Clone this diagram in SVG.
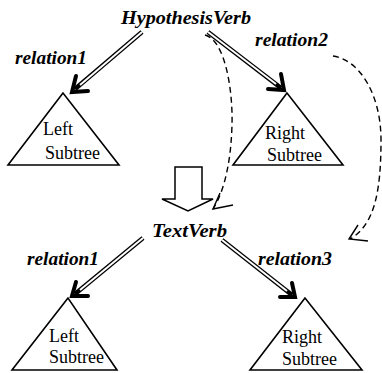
<svg xmlns="http://www.w3.org/2000/svg" width="382" height="373" viewBox="0 0 382 373">
<style>
.lbl{font-weight:bold;font-style:italic;font-size:18px;fill:#000}
.txt{font-size:18px;fill:#000}
.tri{fill:#fff;stroke:#000;stroke-width:1.6;stroke-linejoin:miter}
.dbl-o{stroke:#000;stroke-width:4.6;fill:none}
.dbl-i{stroke:#fff;stroke-width:2;fill:none}
.head{stroke:#000;stroke-width:4;fill:none;stroke-linecap:round;stroke-linejoin:miter}
.dash{stroke:#000;stroke-width:1.4;fill:none;stroke-dasharray:6 4}
.thin{stroke:#000;stroke-width:1.4;fill:none}
</style>
<rect width="382" height="373" fill="#fff"/>
<g font-family="Liberation Serif, DejaVu Serif, serif">
<g id="tri-hyp-left"><polygon class="tri" points="63,93 8,165 119,165"/><text class="txt" x="43" y="135">Left</text><text class="txt" x="45" y="159">Subtree</text></g>
<g id="tri-hyp-right"><polygon class="tri" points="287,93 233,165 343,165"/><text class="txt" x="265" y="139">Right</text><text class="txt" x="267" y="161">Subtree</text></g>
<g id="tri-text-left"><polygon class="tri" points="68,298 12,370 117,370"/><text class="txt" x="49" y="342">Left</text><text class="txt" x="49" y="363">Subtree</text></g>
<g id="tri-text-right"><polygon class="tri" points="305,298 250,370 362,370"/><text class="txt" x="282" y="343">Right</text><text class="txt" x="282" y="365">Subtree</text></g>
<g id="hyp-verb"><text class="lbl" x="121" y="24" textLength="130" lengthAdjust="spacingAndGlyphs">HypothesisVerb</text></g>
<g id="text-verb"><text class="lbl" x="152" y="237" textLength="75" lengthAdjust="spacingAndGlyphs">TextVerb</text></g>
<g id="labels">
<text class="lbl" x="15" y="64" textLength="72" lengthAdjust="spacingAndGlyphs">relation1</text>
<text class="lbl" x="255" y="46" textLength="73" lengthAdjust="spacingAndGlyphs">relation2</text>
<text class="lbl" x="27" y="265" textLength="72" lengthAdjust="spacingAndGlyphs">relation1</text>
<text class="lbl" x="258" y="265" textLength="74" lengthAdjust="spacingAndGlyphs">relation3</text>
</g>
</g>
<g id="transform-arrow"><path d="M175,167 H202 V199 H213 L188,211 L162,199 H175 Z" fill="#fff" stroke="#000" stroke-width="1.5"/></g>
<g id="connectors">
<line class="dbl-o" x1="142" y1="32" x2="75" y2="89"/>
<line class="dbl-i" x1="142" y1="32" x2="80" y2="85"/>
<path class="head" d="M76,76 L72,92 L88,91"/>
<line class="dbl-o" x1="208" y1="32" x2="281" y2="88"/>
<line class="dbl-i" x1="208" y1="32" x2="276" y2="84"/>
<path class="head" d="M281,74 L284,90 L268,89"/>
<line class="dbl-o" x1="143" y1="238" x2="75" y2="294"/>
<line class="dbl-i" x1="143" y1="238" x2="80" y2="290"/>
<path class="head" d="M76,282 L72,296 L88,296"/>
<line class="dbl-o" x1="222" y1="240" x2="292" y2="295"/>
<line class="dbl-i" x1="222" y1="240" x2="287" y2="291"/>
<path class="head" d="M292,283 L295,297 L280,297"/>
<path class="dash" d="M205,35 C225,40 233,90 232,125 C231,160 225,190 213,209"/>
<path class="thin" d="M220,193 L213,209 L233,205"/>
<path class="dash" d="M333,56 C360,60 381,95 381,140 C381,190 375,225 350,239"/>
<path class="thin" d="M358,225 L349,239 L368,241"/>
</g>
</svg>
